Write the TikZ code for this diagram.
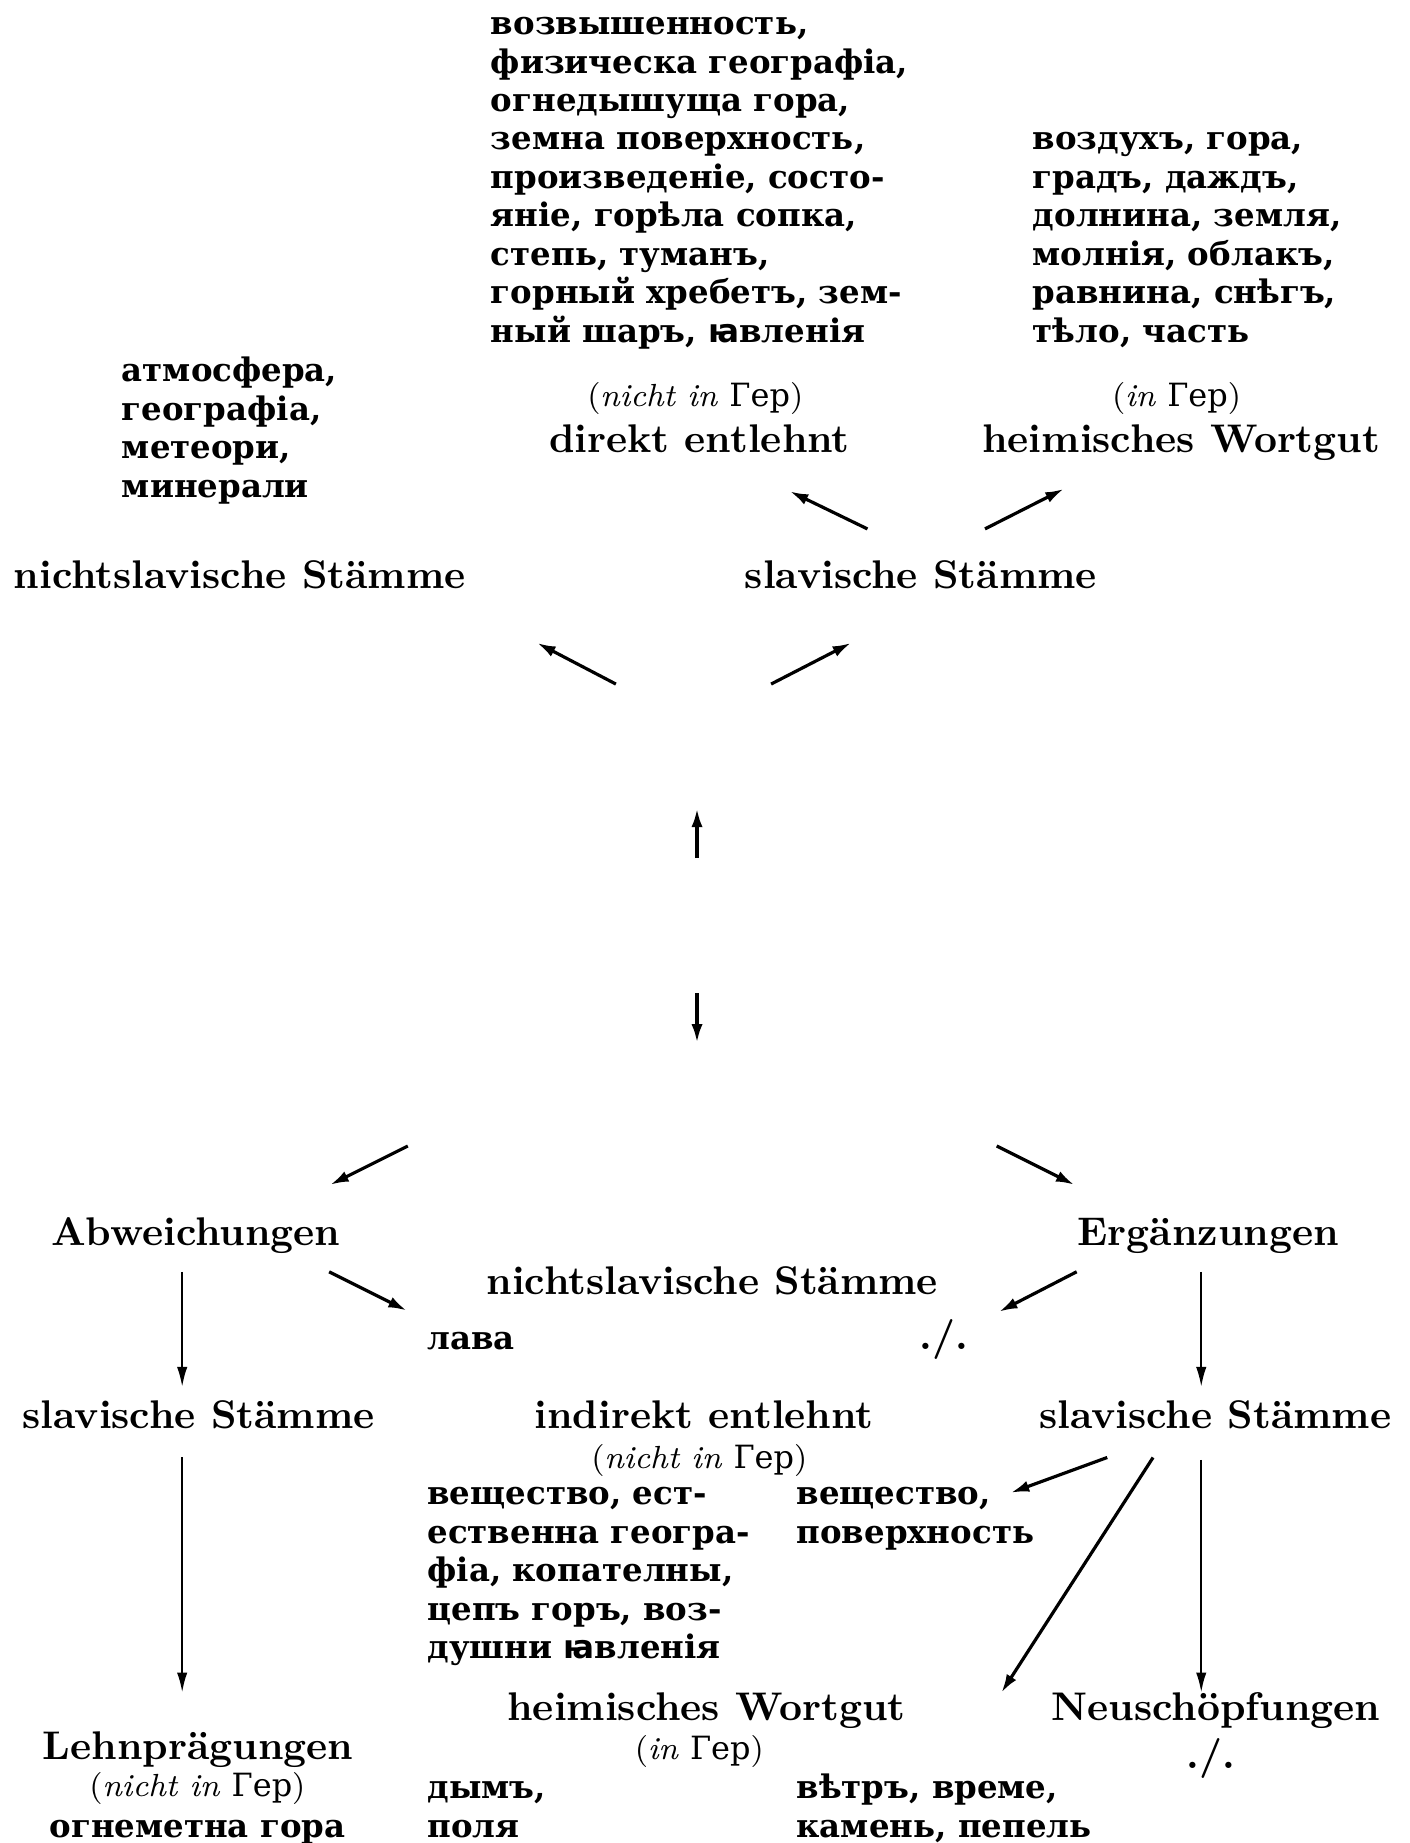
\documentclass[tikz,border=0pt]{standalone}
\usepackage{fontspec}
\usetikzlibrary{arrows.meta}
\newfontfamily\cyrfont{DejaVu Serif}
\newfontfamily\iotafont{DejaVu Sans}
\newcommand\iotaA{{\iotafont ꙗ}}
\newcommand\listfont{\fontsize{8.1}{9.6}\selectfont\cyrfont\bfseries}
\newcommand\notefont{\fontsize{8}{9.5}\selectfont}

\tikzset{
  head/.style={font=\bfseries, inner sep=0pt, anchor=base},
  % multi-line word lists are placed by the baseline of their last line
  words/.style={font=\listfont, align=left, inner sep=0pt, anchor=base west},
  note/.style={font=\notefont, inner sep=0pt, anchor=base},
  arr/.style={-{Latex[length=4.6pt,width=2.8pt]}, line width=0.8pt},
  varr/.style={-{Latex[length=5pt,width=2.6pt]}, line width=0.55pt},
}

\begin{document}
\begin{tikzpicture}[x=0.29378pt, y=-0.29378pt]
\useasboundingbox (0,0) rectangle (1199,1568);

% ---- upper part: words of Slavic and non-Slavic stems
\node[words] (dirwords) at (417,291) {возвышенность,\\физическа географіа,\\огнедышуща гора,\\земна поверхность,\\произведеніе, состо-\\яніе, горѣла сопка,\\степь, туманъ,\\горный хребетъ, зем-\\ный шаръ, \iotaA вленія};
\node[words] (heimwords) at (878,291) {воздухъ, гора,\\градъ, даждъ,\\долнина, земля,\\молнія, облакъ,\\равнина, снѣгъ,\\тѣло, часть};
\node[words] (nslwords) at (103,423) {атмосфера,\\географіа,\\метеори,\\минерали};

\node[note] (dirnote) at (591.5,346) {(\textit{nicht in} {\cyrfont Гер})};
\node[head] (dir) at (595,385) {direkt entlehnt};
\node[note] (heimnote) at (1001,346) {(\textit{in} {\cyrfont Гер})};
\node[head] (heim) at (1005,385) {heimisches Wortgut};

\node[head] (nsl) at (204,501) {nichtslavische Stämme};
\node[head] (sl) at (783.5,501) {slavische Stämme};

% ---- lower part
\node[head] (abw) at (166.5,1060) {Abweichungen};
\node[head] (erg) at (1028,1060) {Ergänzungen};
\node[head] (nsl2) at (606,1101) {nichtslavische Stämme};
\node[words] (lava) at (363,1148) {лава};
\node[head] (none1) at (803,1148) {./.};

\node[head] (sl2l) at (169,1215) {slavische Stämme};
\node[head] (ind) at (599,1215) {indirekt entlehnt};
\node[head] (sl2r) at (1034,1215) {slavische Stämme};
\node[note] (indnote) at (595,1249) {(\textit{nicht in} {\cyrfont Гер})};
\node[words] (indwords) at (363,1411) {вещество, ест-\\ественна геогра-\\фіа, копателны,\\цепъ горъ, воз-\\душни \iotaA вленія};
\node[words] (indwords2) at (677,1313) {вещество,\\поверхность};

\node[head] (heim2) at (601,1464) {heimisches Wortgut};
\node[head] (neu) at (1034.5,1464) {Neuschöpfungen};
\node[head] (lehn) at (168.5,1497) {Lehnprägungen};
\node[note] (heim2note) at (595,1497) {(\textit{in} {\cyrfont Гер})};
\node[head] (none2) at (1030,1505) {./.};
\node[note] (lehnnote) at (168,1528) {(\textit{nicht in} {\cyrfont Гер})};
\node[words, anchor=base] (lehnwords) at (168,1563) {огнеметна гора};
\node[words] (heim2words) at (363,1563) {дымъ,\\поля};
\node[words] (heim2words2) at (677,1563) {вѣтръ, време,\\камень, пепель};

% ---- connector end points
\coordinate (sl-dir-a) at (738,450);   \coordinate (sl-dir-b) at (672,418);
\coordinate (sl-heim-a) at (838,450);  \coordinate (sl-heim-b) at (905,416);
\coordinate (top-nsl-a) at (524,582);  \coordinate (top-nsl-b) at (457,547);
\coordinate (top-sl-a) at (656,582);   \coordinate (top-sl-b) at (724,547);
\coordinate (mid-up-a) at (593,730);   \coordinate (mid-up-b) at (593,688);
\coordinate (mid-dn-a) at (593,845);   \coordinate (mid-dn-b) at (593,887);
\coordinate (bot-abw-a) at (347,975);  \coordinate (bot-abw-b) at (281,1008);
\coordinate (bot-erg-a) at (848,975);  \coordinate (bot-erg-b) at (914,1008);
\coordinate (abw-lava-a) at (280,1082);\coordinate (abw-lava-b) at (346,1115);
\coordinate (erg-none-a) at (916,1082);\coordinate (erg-none-b) at (850,1116);
\coordinate (abw-sl-a) at (155,1082);  \coordinate (abw-sl-b) at (155,1180);
\coordinate (erg-sl-a) at (1022,1082); \coordinate (erg-sl-b) at (1022,1180);
\coordinate (sll-lehn-a) at (155,1240);\coordinate (sll-lehn-b) at (155,1440);
\coordinate (slr-ind-a) at (942,1240); \coordinate (slr-ind-b) at (860,1270);
\coordinate (slr-heim-a) at (981,1240);\coordinate (slr-heim-b) at (852,1440);
\coordinate (slr-neu-a) at (1022,1242);\coordinate (slr-neu-b) at (1022,1440);

\draw[arr] (sl-dir-a) -- (sl-dir-b);
\draw[arr] (sl-heim-a) -- (sl-heim-b);
\draw[arr] (top-nsl-a) -- (top-nsl-b);
\draw[arr] (top-sl-a) -- (top-sl-b);
\draw[arr] (mid-up-a) -- (mid-up-b);
\draw[arr] (mid-dn-a) -- (mid-dn-b);
\draw[arr] (bot-abw-a) -- (bot-abw-b);
\draw[arr] (bot-erg-a) -- (bot-erg-b);
\draw[arr] (abw-lava-a) -- (abw-lava-b);
\draw[arr] (erg-none-a) -- (erg-none-b);
\draw[varr] (abw-sl-a) -- (abw-sl-b);
\draw[varr] (erg-sl-a) -- (erg-sl-b);
\draw[varr] (sll-lehn-a) -- (sll-lehn-b);
\draw[arr] (slr-ind-a) -- (slr-ind-b);
\draw[arr] (slr-heim-a) -- (slr-heim-b);
\draw[varr] (slr-neu-a) -- (slr-neu-b);
\end{tikzpicture}
\end{document}
